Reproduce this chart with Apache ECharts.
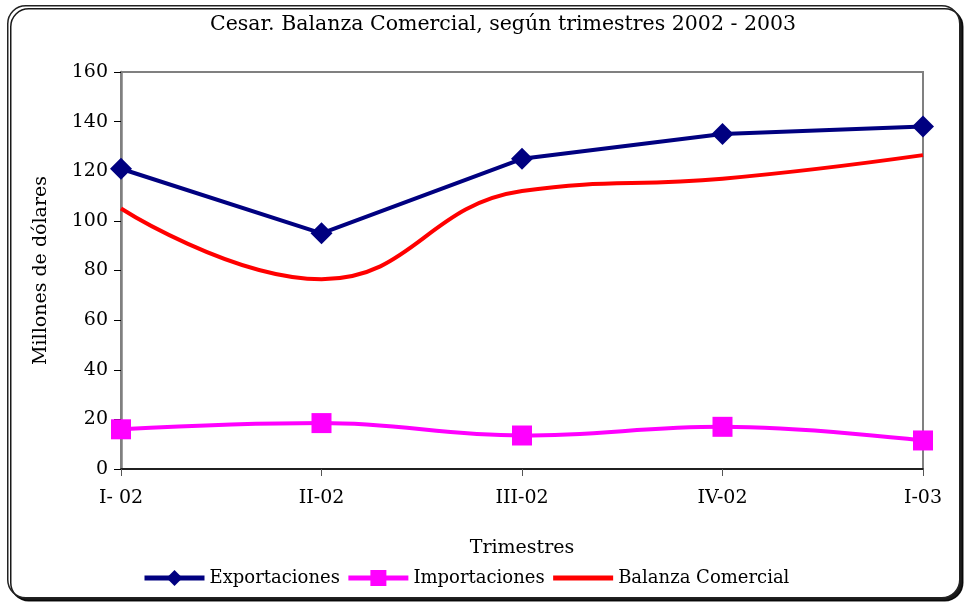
<!DOCTYPE html>
<html>
<head>
<meta charset="utf-8">
<script src="https://cdn.jsdelivr.net/npm/echarts@6/dist/echarts.min.js"></script>
<style>
  html, body { margin: 0; padding: 0; background: #fff; }
  #chart { width: 964px; height: 603px; }
</style>
</head>
<body>
<div id="chart"></div>
<script>
// datos
const trimestres = ['I- 02', 'II-02', 'III-02', 'IV-02', 'I-03'];
const exportaciones = [121, 95, 125, 135, 138];
const importaciones = [16, 18.5, 13.5, 17, 11.5];
const balanza = [105, 76.5, 112, 117, 126.5];

const fuente = 'DejaVu Serif';

const chart = echarts.init(document.getElementById('chart'));

const option = {
  animation: false,
  textStyle: { fontFamily: fuente, color: '#000' },
  // marco redondeado del grafico
  graphic: [
    {
      type: 'rect',
      left: 7,
      top: 5,
      shape: { width: 952, height: 592, r: 18 },
      style: {
        fill: '#fff',
        stroke: '#222',
        lineWidth: 1.5,
        shadowColor: 'rgba(0,0,0,0.9)',
        shadowOffsetX: 3,
        shadowOffsetY: 3
      },
      z: -10
    }
  ],
  title: {
    text: 'Cesar. Balanza Comercial, según trimestres 2002 - 2003',
    left: 205,
    top: 9,
    textStyle: { fontFamily: fuente, fontSize: 20.5, fontWeight: 'normal', color: '#000' }
  },
  grid: {
    left: 121,
    right: 41,
    top: 72,
    bottom: 134,
    show: true,
    borderColor: '#808080',
    borderWidth: 2
  },
  legend: {
    bottom: 11,
    left: 137,
    itemWidth: 60,
    itemHeight: 20,
    itemGap: 6,
    textStyle: { fontFamily: fuente, fontSize: 18, color: '#000' },
    lineStyle: { width: 5 },
    data: [
      'Exportaciones',
      'Importaciones',
      { name: 'Balanza Comercial', itemStyle: { opacity: 0 } }
    ]
  },
  xAxis: {
    type: 'category',
    data: trimestres,
    boundaryGap: false,
    name: 'Trimestres',
    nameLocation: 'middle',
    nameGap: 70,
    nameTextStyle: { fontFamily: fuente, fontSize: 19, color: '#000' },
    axisLine: { lineStyle: { color: '#000', width: 1.5 } },
    axisTick: { length: 7, lineStyle: { color: '#555' } },
    axisLabel: { fontFamily: fuente, fontSize: 19, color: '#000', margin: 20 }
  },
  yAxis: {
    type: 'value',
    min: 0,
    max: 160,
    interval: 20,
    name: 'Millones de dólares',
    nameLocation: 'middle',
    nameGap: 70,
    nameTextStyle: { fontFamily: fuente, fontSize: 19, color: '#000' },
    axisLine: { show: true, lineStyle: { color: '#808080', width: 2.5 } },
    axisTick: { show: true, length: 7, lineStyle: { color: '#000' } },
    axisLabel: { fontFamily: fuente, fontSize: 19, color: '#000', margin: 13 },
    splitLine: { show: false }
  },
  series: [
    {
      name: 'Exportaciones',
      type: 'line',
      data: exportaciones,
      symbol: 'diamond',
      symbolSize: 22,
      itemStyle: { color: '#000080' },
      lineStyle: { color: '#000080', width: 4 },
      z: 5
    },
    {
      name: 'Importaciones',
      type: 'line',
      data: importaciones,
      smooth: 0.4,
      symbol: 'rect',
      symbolSize: 20,
      itemStyle: { color: '#ff00ff' },
      lineStyle: { color: '#ff00ff', width: 4 },
      z: 4
    },
    {
      name: 'Balanza Comercial',
      type: 'line',
      data: balanza,
      smooth: 0.45,
      symbol: 'none',
      itemStyle: { color: '#ff0000' },
      lineStyle: { color: '#ff0000', width: 4 },
      z: 3
    }
  ]
};

chart.setOption(option);
</script>
</body>
</html>
